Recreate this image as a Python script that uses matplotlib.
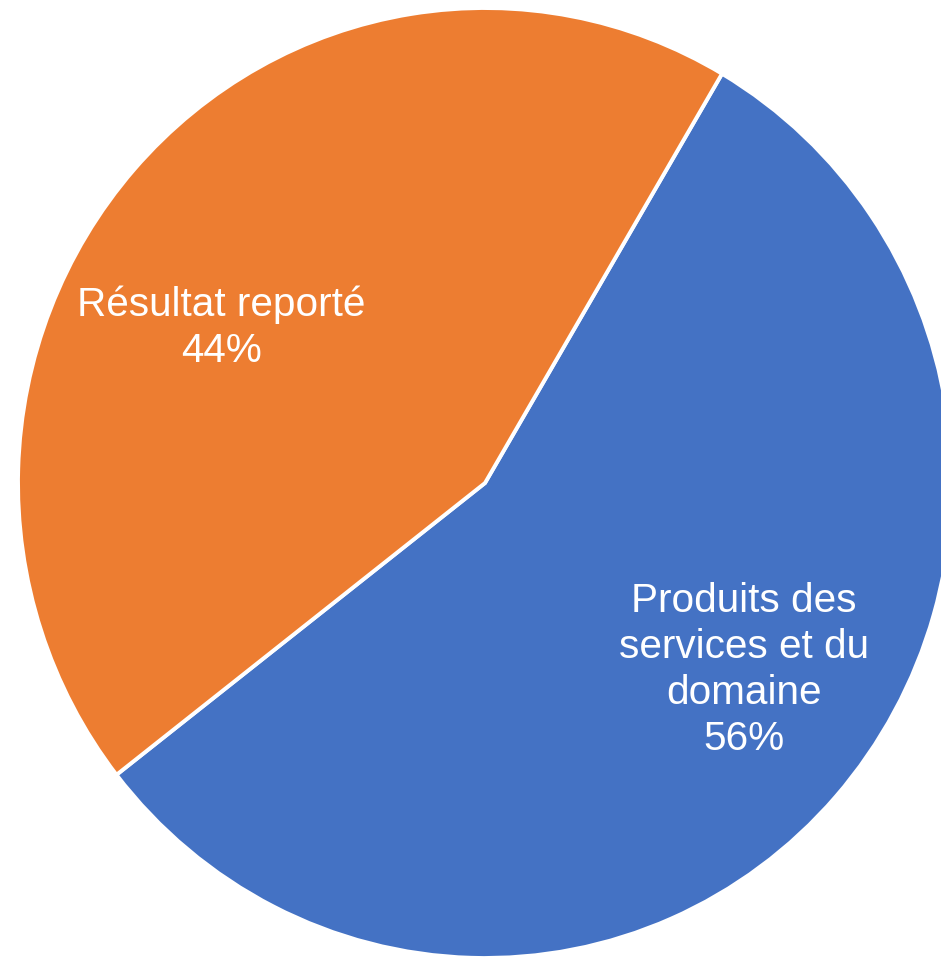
import matplotlib.pyplot as plt

# data
categories = ['Produits des\nservices et du\ndomaine', 'Résultat reporté']
values = [56, 44]
colors = ['#4472C4', '#ED7D31']

plt.rcParams['font.family'] = ['Liberation Sans', 'DejaVu Sans']

W, H = 941, 957
fig = plt.figure(figsize=(W / 100, H / 100), dpi=100)

# pie centre / radii in pixels (slightly elliptical like the source)
cx, cy, rx, ry = 485, 483, 467, 475
ax = fig.add_axes([(cx - rx) / W, (H - cy - ry) / H, 2 * rx / W, 2 * ry / H])

wedges, _ = ax.pie(values, colors=colors, startangle=59.5, counterclock=False,
                   wedgeprops=dict(edgecolor='white', linewidth=2.8))
ax.set_aspect('auto')
ax.set_xlim(-1, 1)
ax.set_ylim(-1, 1)

# label positions (data coords)
label_pos = [(0.555, -0.394), (-0.565, 0.326)]
for (x, y), cat, v in zip(label_pos, categories, values):
    ax.text(x, y, f'{cat}\n{v}%', ha='center', va='center', color='white',
            fontsize=29.2, linespacing=1.26)

fig.savefig('out.png', dpi=100)
